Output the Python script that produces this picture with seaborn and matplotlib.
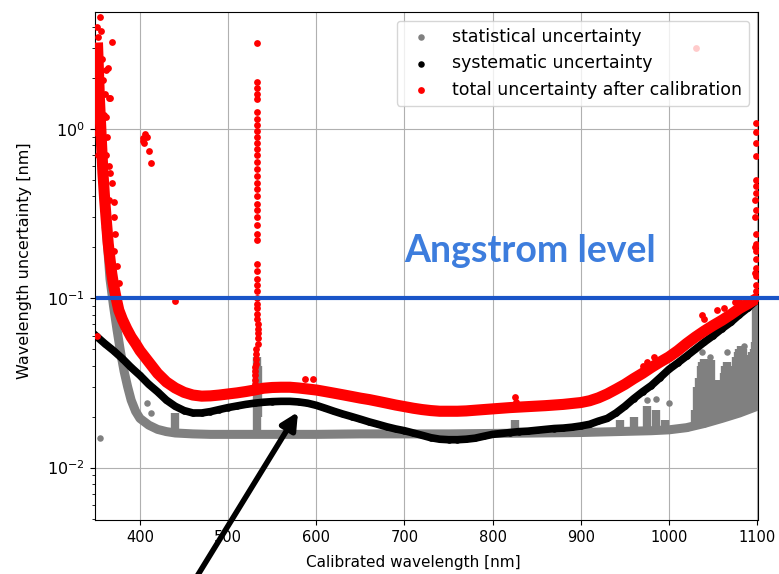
import matplotlib
matplotlib.use("Agg")
import matplotlib.pyplot as plt
import seaborn as sns
import pandas as pd

# ---------------- data ----------------
sys_wl = [350, 360, 370, 380, 390, 400, 410, 420, 430, 440, 450, 460, 470, 480, 490,
          500, 510, 520, 530, 540, 550, 560, 570, 580, 590, 600, 610, 620, 630, 640,
          650, 660, 670, 680, 690, 700, 710, 720, 730, 740, 750, 760, 770, 780, 790,
          800, 810, 820, 830, 840, 850, 860, 870, 880, 890, 900, 910, 920, 930, 940,
          950, 960, 970, 980, 990, 1000, 1010, 1020, 1030, 1040, 1050, 1060, 1070,
          1080, 1090, 1100]
sys_unc = [0.060, 0.054, 0.049, 0.044, 0.039, 0.035, 0.031, 0.028, 0.025, 0.023,
           0.0217, 0.0210, 0.0210, 0.0214, 0.0220, 0.0226, 0.0231, 0.0236, 0.0240,
           0.0243, 0.0245, 0.0246, 0.0246, 0.0244, 0.0240, 0.0233, 0.0224, 0.0215,
           0.0207, 0.0200, 0.0193, 0.0186, 0.0180, 0.0174, 0.0169, 0.0165, 0.0160,
           0.0155, 0.0150, 0.0147, 0.0146, 0.0146, 0.0147, 0.0149, 0.0153, 0.0157,
           0.0159, 0.0161, 0.0163, 0.0164, 0.0166, 0.0168, 0.0170, 0.0171, 0.0173,
           0.0176, 0.0180, 0.0188, 0.0195, 0.0210, 0.0230, 0.0255, 0.0280, 0.0305,
           0.0340, 0.0380, 0.0415, 0.0455, 0.0500, 0.0550, 0.0600, 0.0660, 0.0720,
           0.0800, 0.0880, 0.0980]

tot_wl = [352, 354, 356, 358, 360, 362, 364, 366, 368, 370, 373, 376, 380, 385, 390,
          395, 400, 410, 420, 430, 440, 450, 460, 470, 480, 490, 500, 510, 520, 530,
          540, 550, 560, 570, 580, 590, 600, 610, 620, 630, 640, 650, 660, 670, 680,
          690, 700, 710, 720, 730, 740, 750, 760, 770, 780, 790, 800, 820, 840, 860,
          880, 900, 910, 920, 930, 940, 950, 960, 970, 980, 990, 1000, 1010, 1020,
          1030, 1040, 1050, 1060, 1070, 1080, 1090, 1100]
tot_unc = [3.0, 1.5, 0.9, 0.55, 0.38, 0.28, 0.21, 0.17, 0.14, 0.12, 0.10, 0.085,
           0.075, 0.066, 0.059, 0.054, 0.049, 0.042, 0.036, 0.032, 0.0295, 0.0278,
           0.0268, 0.0264, 0.0265, 0.0268, 0.0272, 0.0276, 0.0281, 0.0287, 0.0294,
           0.0297, 0.0298, 0.0298, 0.0295, 0.0291, 0.0287, 0.0281, 0.0275, 0.0269,
           0.0263, 0.0257, 0.0252, 0.0246, 0.0240, 0.0234, 0.0229, 0.0224, 0.0220,
           0.0217, 0.0215, 0.0215, 0.0215, 0.0216, 0.0218, 0.0220, 0.0222, 0.0226,
           0.0229, 0.0232, 0.0236, 0.0242, 0.0248, 0.0258, 0.0272, 0.0290, 0.031,
           0.0335, 0.036, 0.039, 0.042, 0.045, 0.049, 0.054, 0.059, 0.064, 0.069,
           0.074, 0.080, 0.087, 0.093, 0.100]

# scattered red points (left rise, 405 nm cluster, stray points)
tot_pts_wl = [355, 353, 368, 362, 358, 365, 355, 362, 351, 358, 365, 368, 365, 370,
              372, 370, 374, 376, 364, 366, 366, 370, 351, 352, 356, 353, 357, 352,
              360, 354, 357, 361, 352, 356, 360, 351, 350, 350, 355, 359, 363,
              404, 406, 405, 408, 403, 410.5, 413, 440, 587, 596, 983, 1031,
              825, 826, 970, 975, 1038, 1040, 1055, 1062, 1075, 1080]
tot_pts_unc = [4.6, 2.9, 3.25, 2.23, 1.95, 1.52, 1.3, 1.18, 0.95, 0.75, 0.60, 0.48,
               0.38, 0.30, 0.24, 0.19, 0.154, 0.123, 2.28, 1.52, 0.55, 0.37, 4.0, 3.5,
               3.8, 2.0, 2.6, 1.6, 1.6, 1.1, 0.85, 0.7, 0.7, 0.5, 0.45, 0.06, 2.4,
               1.4, 2.0, 1.2, 0.9,
               0.88, 0.93, 0.83, 0.90, 0.85, 0.745, 0.633, 0.096, 0.0333, 0.0333,
               0.0447, 3.0, 0.026, 0.0245, 0.040, 0.042, 0.080, 0.075, 0.085, 0.088,
               0.095, 0.098]

# red spike at ~533 nm
spike_wl = [533, 533, 533, 533, 533, 533, 533, 533, 533, 533, 533, 533, 533, 533,
            533, 533, 533, 533, 533, 533, 533, 533, 533, 533, 533, 533, 533, 533,
            533, 533, 533, 533, 533, 533, 533, 534, 534, 534, 534, 534, 532, 532,
            532, 532, 531, 531, 531, 531, 531]
spike_unc = [3.2, 1.9, 1.75, 1.6, 1.5, 1.25, 1.15, 1.05, 0.97, 0.9, 0.83, 0.76, 0.7,
             0.64, 0.58, 0.53, 0.48, 0.44, 0.4, 0.36, 0.33, 0.3, 0.27, 0.24, 0.22,
             0.16, 0.145, 0.13, 0.12, 0.11, 0.1, 0.093, 0.087, 0.081, 0.075, 0.07,
             0.066, 0.062, 0.058, 0.054, 0.05, 0.047, 0.044, 0.041, 0.039, 0.037,
             0.035, 0.033, 0.031]

# red column at the right edge
edge_wl = [1099, 1099, 1099, 1099, 1099, 1099, 1099, 1099, 1099, 1099, 1099, 1099,
           1099, 1099, 1099, 1099, 1098, 1098, 1098, 1098]
edge_unc = [1.08, 0.96, 0.83, 0.69, 0.5, 0.46, 0.42, 0.33, 0.24, 0.21, 0.19, 0.17,
            0.15, 0.135, 0.12, 0.11, 0.38, 0.3, 0.2, 0.14]

stat_wl = [362, 366, 370, 374, 378, 382, 386, 390, 395, 400, 410, 420, 430, 440, 460,
           480, 500, 550, 600, 650, 700, 750, 800, 850, 900, 920, 940, 960, 980, 1000,
           1020, 1040, 1060, 1080, 1100]
stat_unc = [0.25, 0.13, 0.09, 0.065, 0.048, 0.037, 0.030, 0.025, 0.0215, 0.0195,
            0.0178, 0.0168, 0.0163, 0.0160, 0.0158, 0.0157, 0.0157, 0.0157, 0.0157,
            0.0158, 0.0158, 0.0158, 0.0159, 0.0160, 0.0161, 0.0162, 0.0163, 0.0164,
            0.0165, 0.0167, 0.0172, 0.0182, 0.0195, 0.021, 0.023]

stat_pts_wl = [355, 408, 412, 1038, 1066, 1085, 1047, 975, 985, 1000]
stat_pts_unc = [0.0149, 0.0242, 0.021, 0.048, 0.048, 0.052, 0.045, 0.025, 0.0255, 0.024]

# vertical clumps of statistical points
stat_col_wl = [440, 533, 534, 825, 945, 960, 975, 985, 995,
               1030, 1032, 1034, 1036, 1038, 1040, 1042, 1044, 1046, 1048, 1050, 1052,
               1054, 1056, 1058, 1060, 1062, 1064, 1066, 1068, 1070, 1072, 1074, 1076,
               1078, 1080, 1082, 1084, 1086, 1088, 1090, 1092, 1094, 1096, 1098, 1099]
stat_col_lo = [0.016, 0.016, 0.02, 0.016, 0.016, 0.016, 0.016, 0.016, 0.016,
               0.0172, 0.0173, 0.0174, 0.0175, 0.0176, 0.0177, 0.0178, 0.0179, 0.018,
               0.0182, 0.0184, 0.0186, 0.0188, 0.019, 0.0192, 0.0194, 0.0196, 0.0198,
               0.020, 0.0202, 0.0204, 0.0206, 0.0208, 0.021, 0.0212, 0.0214, 0.0216,
               0.0218, 0.022, 0.0222, 0.0224, 0.0226, 0.0228, 0.023, 0.0232, 0.04]
stat_col_hi = [0.021, 0.045, 0.04, 0.019, 0.019, 0.02, 0.023, 0.022, 0.019,
               0.022, 0.030, 0.034, 0.040, 0.042, 0.044, 0.038, 0.036, 0.040, 0.043,
               0.032, 0.030, 0.033, 0.031, 0.028, 0.030, 0.036, 0.040, 0.042, 0.040,
               0.036, 0.034, 0.040, 0.045, 0.048, 0.050, 0.052, 0.050, 0.046, 0.042,
               0.044, 0.046, 0.048, 0.050, 0.055, 0.100]

angstrom = 0.1

GRAY, BLACK, RED, BLUE = "#808080", "black", "red", "#1a55c8"

# ---------------- figure ----------------
fig = plt.figure(figsize=(7.79, 5.74), dpi=100)
ax = fig.add_axes([95 / 779, 1 - 520 / 574, (758 - 95) / 779, (520 - 12) / 574])

stat_df = pd.DataFrame({"wl": stat_wl, "unc": stat_unc})
stat_pts = pd.DataFrame({"wl": stat_pts_wl + stat_wl, "unc": stat_pts_unc + stat_unc})
sys_df = pd.DataFrame({"wl": sys_wl, "unc": sys_unc})
tot_df = pd.DataFrame({"wl": tot_wl, "unc": tot_unc})
tot_pts = pd.DataFrame({"wl": tot_pts_wl + spike_wl + edge_wl + tot_wl,
                        "unc": tot_pts_unc + spike_unc + edge_unc + tot_unc})

# statistical
sns.lineplot(data=stat_df, x="wl", y="unc", ax=ax, color=GRAY, lw=6.5,
             estimator=None, legend=False, zorder=2)
ax.vlines(stat_col_wl, stat_col_lo, stat_col_hi, color=GRAY, lw=6, zorder=2)
sns.scatterplot(data=stat_pts, x="wl", y="unc", ax=ax, color=GRAY, s=22,
                linewidth=0, label="statistical uncertainty", zorder=2)

# systematic
sns.lineplot(data=sys_df, x="wl", y="unc", ax=ax, color=BLACK, lw=5.5,
             estimator=None, legend=False, zorder=3)
sns.scatterplot(data=sys_df, x="wl", y="unc", ax=ax, color=BLACK, s=22,
                linewidth=0, label="systematic uncertainty", zorder=3)

# total
sns.lineplot(data=tot_df, x="wl", y="unc", ax=ax, color=RED, lw=8,
             estimator=None, legend=False, zorder=4)
sns.scatterplot(data=tot_pts, x="wl", y="unc", ax=ax, color=RED, s=24,
                linewidth=0, label="total uncertainty after calibration", zorder=4)

ax.set_yscale("log")
ax.set_xlim(349, 1101)
ax.set_ylim(0.0049, 4.9)
ax.set_xticks([400, 500, 600, 700, 800, 900, 1000, 1100])
ax.grid(True, which="major", color="#b0b0b0", lw=0.8)
ax.set_axisbelow(True)
ax.set_xlabel("Calibrated wavelength [nm]", fontsize=11)
ax.set_ylabel("Wavelength uncertainty [nm]", fontsize=11.5)
ax.xaxis.set_label_coords(0.48, -0.069)
ax.yaxis.set_label_coords(-0.095, 0.51)
ax.tick_params(axis="x", labelsize=10.5)
ax.tick_params(axis="y", labelsize=11.5)
leg = ax.legend(loc="upper right", fontsize=12.5, framealpha=0.8)
leg.set_zorder(10)

# Angstrom level line, extending past the axes
ax.axhline(angstrom, xmin=0.005, xmax=(779 - 95) / (758 - 95), color=BLUE, lw=3,
           clip_on=False, zorder=6)
fig.text(404 / 779, 1 - 262 / 574, "Angstrom level", fontsize=27,
         family=["Lato", "DejaVu Sans"], fontweight="bold", color="#3d7ddd",
         va="baseline", ha="left")

# arrow
ax.annotate("", xy=(298, 574 - 412), xycoords="figure pixels",
            xytext=(196, -4), textcoords="figure pixels",
            arrowprops=dict(arrowstyle="-|>,head_length=1.0,head_width=0.5",
                            color="black", lw=4, shrinkA=0, shrinkB=0),
            annotation_clip=False, zorder=8)

fig.savefig("out.png", dpi=100)
